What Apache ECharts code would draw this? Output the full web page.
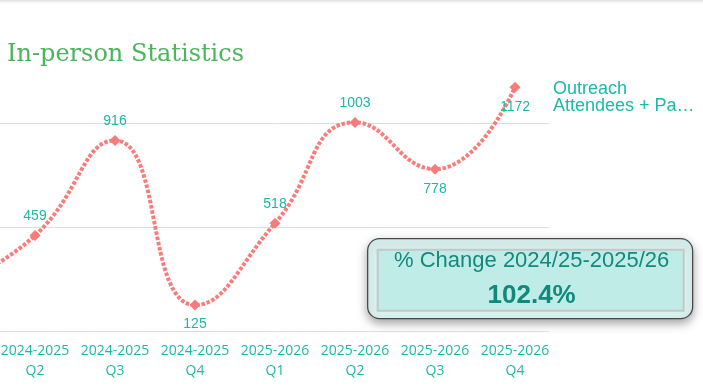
<!DOCTYPE html>
<html>
<head>
<meta charset="utf-8">
<script src="https://cdn.jsdelivr.net/npm/echarts@6/dist/echarts.min.js"></script>
<style>
html,body{margin:0;padding:0;background:#fff;}
#chart{width:703px;height:386px;}
</style>
</head>
<body>
<div id="chart"></div>
<script>
// ---- data ----
const categories = ['2024-2025 Q1','2024-2025 Q2','2024-2025 Q3','2024-2025 Q4','2025-2026 Q1','2025-2026 Q2','2025-2026 Q3','2025-2026 Q4'];
const attendees = [215, 459, 916, 125, 518, 1003, 778, 1172];
const seriesName = 'Outreach Attendees + Participants';
const yTicks = [0, 500, 1000];
const labelSide = ['top','top','top','bottom','top','top','bottom','bottom'];
const titleText = 'In-person Statistics';
const changeTitle = '% Change 2024/25-2025/26';
const changeValue = '102.4%';

const teal = '#1BB9A8';
const salmon = '#FB7B7B';

const chart = echarts.init(document.getElementById('chart'), null, {renderer: 'canvas'});

const option = {
  animation: false,
  backgroundColor: '#ffffff',
  title: {
    text: titleText,
    left: 2,
    top: 38,
    textStyle: {fontFamily: 'DejaVu Serif', fontSize: 24, fontWeight: 'normal', color: '#4DB35C'}
  },
  legend: {
    data: [seriesName],
    left: 543,
    top: 75,
    icon: 'none',
    itemWidth: 0,
    itemHeight: 0,
    selectedMode: false,
    formatter: function () { return 'Outreach\nAttendees + Pa\u2026'; },
    textStyle: {fontFamily: 'Liberation Sans', fontSize: 18, lineHeight: 17, color: teal}
  },
  grid: [
    {left: -85, right: 148, top: 71, bottom: 55, containLabel: false, outerBoundsMode: 'none'},
    {left: 0, right: 154, top: 71, bottom: 55, containLabel: false, outerBoundsMode: 'none'}
  ],
  xAxis: [
    {
      type: 'category', gridIndex: 0, data: categories, boundaryGap: true,
      axisLine: {show: false}, axisTick: {show: false}, splitLine: {show: false},
      axisLabel: {
        interval: 0, margin: 10, color: teal, fontFamily: 'Open Sans', fontSize: 14, lineHeight: 20,
        formatter: function (v) { return v.replace(' ', '\n'); }
      }
    },
    {type: 'value', gridIndex: 1, min: 0, max: 1, show: false}
  ],
  yAxis: [
    {type: 'value', gridIndex: 0, min: 0, max: 1250, interval: 500, show: false},
    {
      type: 'value', gridIndex: 1, min: 0, max: 1250, interval: 500,
      axisLine: {show: false}, axisTick: {show: false}, axisLabel: {show: false},
      splitLine: {show: true, showMaxLine: false, lineStyle: {color: '#DEDEDE', width: 1}}
    }
  ],
  series: [
    {
      name: seriesName,
      type: 'line',
      xAxisIndex: 0, yAxisIndex: 0,
      data: attendees.map(function (v, i) {
        return {value: v, label: {position: labelSide[i]}};
      }),
      smooth: true,
      symbol: 'diamond',
      symbolSize: 11,
      showAllSymbol: true,
      itemStyle: {color: salmon},
      lineStyle: {color: salmon, width: 4, type: [3.5, 1.8]},
      label: {
        show: true, distance: 7, color: teal, fontFamily: 'Liberation Sans', fontSize: 14
      },
      clip: false
    }
  ],
  graphic: [
    {
      type: 'rect', left: 0, top: 0, silent: true,
      shape: {x: 0, y: 0, width: 703, height: 5},
      style: {fill: new echarts.graphic.LinearGradient(0, 0, 0, 1, [
        {offset: 0, color: 'rgba(200,200,200,0.6)'}, {offset: 1, color: 'rgba(255,255,255,0)'}
      ])}
    },
    {
      type: 'group', left: 367, top: 238, silent: true,
      children: [
        {
          type: 'rect',
          shape: {x: 0, y: 0, width: 325, height: 80, r: 12},
          style: {fill: '#DAF3F0', stroke: '#4A4A4A', lineWidth: 1.3,
                  shadowBlur: 10, shadowColor: 'rgba(0,0,0,0.35)', shadowOffsetY: 4}
        },
        {
          type: 'rect',
          shape: {x: 10, y: 11, width: 306, height: 61},
          style: {fill: '#BFECE7', stroke: '#C6C6C6', lineWidth: 2}
        },
        {
          type: 'text', x: 164, y: 22.5,
          style: {text: changeTitle, fill: '#12897E', font: '22px "Liberation Sans"',
                  align: 'center', verticalAlign: 'middle'}
        },
        {
          type: 'text', x: 164, y: 57,
          style: {text: changeValue, fill: '#0F897C', font: 'bold 26px "Liberation Sans"',
                  align: 'center', verticalAlign: 'middle'}
        }
      ]
    }
  ]
};
chart.setOption(option);
</script>
</body>
</html>
